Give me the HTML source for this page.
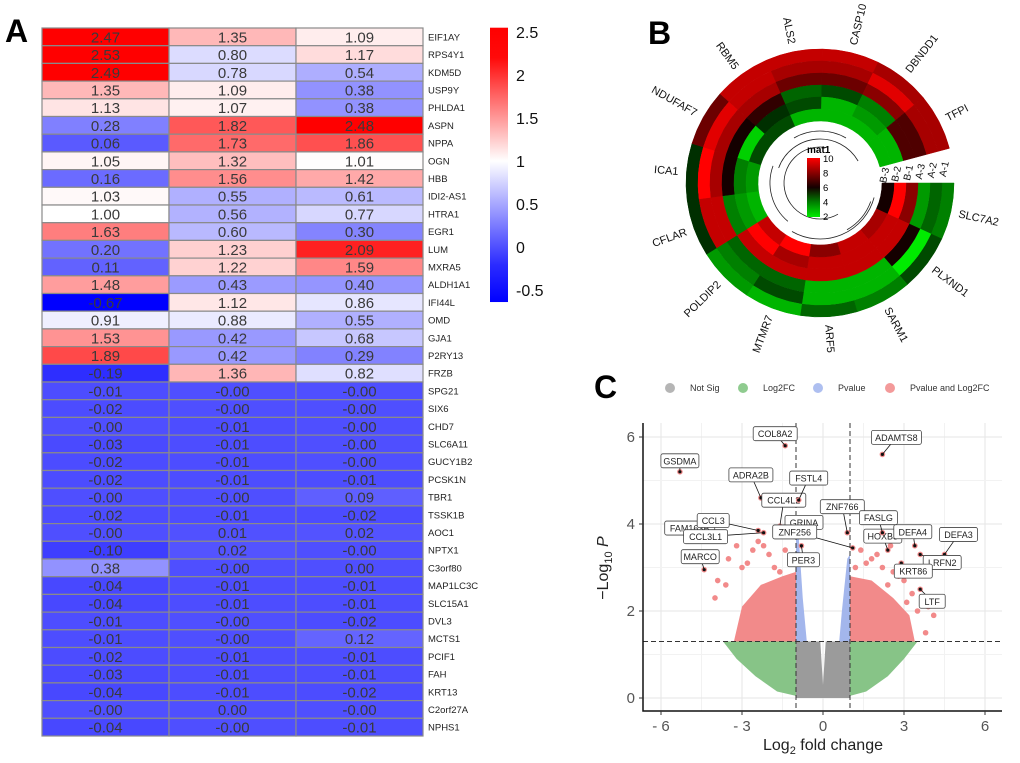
<!DOCTYPE html>
<html><head><meta charset="utf-8"><style>
html,body{margin:0;padding:0;background:#fff;}
svg{display:block;font-family:"Liberation Sans",Arial,sans-serif;}
</style></head><body>
<svg id="fig" width="1020" height="763" viewBox="0 0 1020 763">
<text x="5" y="42" font-size="32" font-weight="bold">A</text>
<text x="648" y="44" font-size="32" font-weight="bold">B</text>
<text x="594" y="398" font-size="32" font-weight="bold">C</text>
<g id="heat"></g>
<g id="cbar"></g>
<g id="circ"></g>
<g id="volc"></g>
</svg>
<script>
const NS="http://www.w3.org/2000/svg";
function mk(tag,attrs,parent,txt){const e=document.createElementNS(NS,tag);for(const k in attrs)e.setAttribute(k,attrs[k]);if(txt!==undefined)e.textContent=txt;parent.appendChild(e);return e;}

/* ---------- Panel A data ---------- */
const genes=["EIF1AY","RPS4Y1","KDM5D","USP9Y","PHLDA1","ASPN","NPPA","OGN","HBB","IDI2-AS1","HTRA1","EGR1","LUM","MXRA5","ALDH1A1","IFI44L","OMD","GJA1","P2RY13","FRZB","SPG21","SIX6","CHD7","SLC6A11","GUCY1B2","PCSK1N","TBR1","TSSK1B","AOC1","NPTX1","C3orf80","MAP1LC3C","SLC15A1","DVL3","MCTS1","PCIF1","FAH","KRT13","C2orf27A","NPHS1"];
const col1=["2.47","2.53","2.49","1.35","1.13","0.28","0.06","1.05","0.16","1.03","1.00","1.63","0.20","0.11","1.48","-0.67","0.91","1.53","1.89","-0.19","-0.01","-0.02","-0.00","-0.03","-0.02","-0.02","-0.00","-0.02","-0.00","-0.10","0.38","-0.04","-0.04","-0.01","-0.01","-0.02","-0.03","-0.04","-0.00","-0.04"];
const col2=["1.35","0.80","0.78","1.09","1.07","1.82","1.73","1.32","1.56","0.55","0.56","0.60","1.23","1.22","0.43","1.12","0.88","0.42","0.42","1.36","-0.00","-0.00","-0.01","-0.01","-0.01","-0.01","-0.00","-0.01","0.01","0.02","-0.00","-0.01","-0.01","-0.00","-0.00","-0.01","-0.01","-0.01","0.00","-0.00"];
const col3=["1.09","1.17","0.54","0.38","0.38","2.48","1.86","1.01","1.42","0.61","0.77","0.30","2.09","1.59","0.40","0.86","0.55","0.68","0.29","0.82","-0.00","-0.00","-0.00","-0.00","-0.00","-0.01","0.09","-0.02","0.02","-0.00","0.00","-0.01","-0.01","-0.02","0.12","-0.01","-0.01","-0.02","-0.00","-0.01"];
const cbarTicks=[2.5,2,1.5,1,0.5,0,-0.5];

function heatColor(v){
  if(v>=1){const t=Math.min(1,(v-1)/1.25);const g=Math.round(255*(1-t));return `rgb(255,${g},${g})`;}
  const t=Math.min(1,(1-v)/1.45);const g=Math.round(255*(1-t));return `rgb(${g},${g},255)`;
}
(function(){
  const g=document.getElementById('heat');
  const x0=42,cw=127,y0=28,rh=17.7;
  const cols=[col1,col2,col3];
  for(let r=0;r<genes.length;r++){
    for(let c=0;c<3;c++){
      const v=parseFloat(cols[c][r]);
      const rc=mk('rect',{x:x0+c*cw,y:y0+r*rh,width:cw,height:rh,fill:heatColor(v),stroke:'#8a8a8a','stroke-width':1.2},g);
      
      
      const t=mk('text',{x:x0+c*cw+cw/2,y:y0+r*rh+rh/2+5.5,'font-size':15,'text-anchor':'middle',fill:'#3a3a3a'},g,cols[c][r]);
      
      
    }
    const l=mk('text',{x:428,y:y0+r*rh+rh/2+3.5,'font-size':9.5,fill:'#222'},g,genes[r]);
    
    
  }
  const cb=document.getElementById('cbar');
  const defs=mk('defs',{},cb);
  const lg=mk('linearGradient',{id:'cbg',x1:0,y1:0,x2:0,y2:1},defs);
  const vy=v=>32+(2.5-v)*86;
  const top=vy(2.55),bot=vy(-0.64);
  [2.55,2.2,1.8,1.4,1,0.6,0.2,-0.2,-0.64].forEach(v=>mk('stop',{offset:(vy(v)-top)/(bot-top),'stop-color':heatColor(v)},lg));
  const bar=mk('rect',{x:490,y:top,width:18,height:bot-top,fill:'url(#cbg)'},cb);
  
  
  cbarTicks.forEach(v=>{const t=mk('text',{x:516,y:vy(v)+6,'font-size':16,fill:'#111'},cb,String(v));
    
    });
})();

/* ---------- Panel B data ---------- */
const circGenes=["SLC7A2","PLXND1","SARM1","ARF5","MTMR7","POLDIP2","CFLAR","ICA1","NDUFAF7","RBM5","ALS2","CASP10","DBNDD1","TFPI"];
const ringA1=[4,5,4,4.5,3,3.5,5.5,5.5,7.5,9,9,9,8.5,8.5];
const ringA2=[4.5,2,3,3,5,4,9,10,9.5,9,8.5,8.5,9.5,8.5];
const ringA3=[3.5,6,3,3,4.5,4.5,9,8.5,8.5,8.5,7.5,7.5,8,7];
const ringB1=[8,9,9,9,9,9,4,6,6,6.5,4.5,5,4,7];
const ringB2=[10,9,9,9,8.5,10,3.5,4,2.5,5.5,5,3,3.5,3];
const ringB3=[6,8.5,9,8,10,9,3,3.5,5,5,3,3,3,3];
const ringNames=["A-1","A-2","A-3","B-1","B-2","B-3"];
const matTicks=[10,8,6,4,2];
function matColor(v){
  const t=(v-2)/8;
  if(t<0.5){const s=t/0.5;return `rgb(0,${Math.round(235*(1-s)+20*s)},0)`;}
  const s=(t-0.5)/0.5;return `rgb(${Math.round(20+235*s)},0,0)`;
}
(function(){
  const g=document.getElementById('circ');
  const cx=820,cy=183,rOut=134,rw=12,start=0,span=345;
  const rings=[ringA1,ringA2,ringA3,ringB1,ringB2,ringB3];
  const n=circGenes.length,da=span/n;
  const P=(r,a)=>[cx+r*Math.cos(a*Math.PI/180),cy+r*Math.sin(a*Math.PI/180)];
  rings.forEach((ring,ri)=>{
    const r1=rOut-ri*rw,r0=r1-rw;
    ring.forEach((v,i)=>{
      const a0=start+i*da,a1=a0+da;
      const p1=P(r1,a0),p2=P(r1,a1),p3=P(r0,a1),p4=P(r0,a0);
      const d=`M${p1}A${r1},${r1} 0 0 1 ${p2}L${p3}A${r0},${r0} 0 0 0 ${p4}Z`;
      const s=mk('path',{d:d,fill:matColor(v),stroke:matColor(v),'stroke-width':0.5},g);
      
      
    });
    const rm=r1-rw/2;const p=P(rm,-6);
    const t=mk('text',{x:p[0],y:p[1],'font-size':10,'text-anchor':'middle',transform:`rotate(-78 ${p[0]} ${p[1]})`,fill:'#111'},g,ringNames[ri]);
    
    
  });
  circGenes.forEach((name,i)=>{
    const a=start+(i+0.5)*da;const p=P(rOut+8,a);
    let rot=a,anchor='start';
    if(a>90&&a<270){rot=a-180;anchor='end';}
    const t=mk('text',{x:p[0],y:p[1]+4,'font-size':11,'text-anchor':anchor,transform:`rotate(${rot} ${p[0]} ${p[1]})`,fill:'#111'},g,name);
    
    
  });
  [[56,15,120],[50,130,200],[44,200,330],[36,60,280],[52,240,300],[54,20,60]].forEach(([r,a0,a1])=>{
    const p1=P(r,a0),p2=P(r,a1);
    const dd=mk('path',{d:`M${p1}A${r},${r} 0 ${a1-a0>180?1:0} 1 ${p2}`,fill:'none',stroke:'#222','stroke-width':0.8},g);
    
    
  });
  const defs=mk('defs',{},g);
  const lg=mk('linearGradient',{id:'matg',x1:0,y1:0,x2:0,y2:1},defs);
  [10,8,6,4,2].forEach((v,i)=>mk('stop',{offset:i/4,'stop-color':matColor(v)},lg));
  const lt=mk('text',{x:807,y:153,'font-size':10,'font-weight':'bold'},g,'mat1');
  
  
  const lb=mk('rect',{x:807,y:158,width:13,height:59,fill:'url(#matg)'},g);
  
  
  matTicks.forEach((v,i)=>{const t=mk('text',{x:823,y:162+i*14.5,'font-size':9.5},g,String(v));
    
    });
})();

/* ---------- Panel C data ---------- */
const xTicks=[-6,-3,0,3,6];
const yTicks=[0,2,4,6];
const labNames=["GSDMA","FAM163B","MARCO","ADRA2B","CCL3","CCL3L1","CCL4L2","FSTL4","COL8A2","GRINA","PER3","ZNF256","ZNF766","HOXB3","FASLG","ADAMTS8","DEFA4","DEFA3","LRFN2","KRT86","LTF"];
const labFC=[-5.3,-4.9,-4.4,-2.3,-2.4,-2.2,-1.6,-0.9,-1.4,-1.0,-0.8,1.1,0.9,2.4,2.2,2.2,3.4,4.5,3.6,2.9,3.6];
const labP=[5.2,3.7,2.95,4.6,3.85,3.8,3.95,4.55,5.8,3.9,3.5,3.45,3.8,3.4,3.8,5.6,3.5,3.3,3.3,3.1,2.5];
const labDX=[0,-1,-4,-10,-45,-58,4,10,-10,8,2,-58,-5,-5,-4,14,-2,14,22,12,12];
const labDY=[-11,-9,-13,-23,-10,4,-26,-22,-12,-6,14,-16,-26,-14,-15,-17,-14,-20,8,8,12];
const redFC=[-2.4,-3.2,-3.5,-3.0,-2.8,-2.0,-1.8,-1.4,-1.2,-3.6,-4.0,-2.6,-3.9,-1.6,-2.2,1.4,1.8,2.2,2.6,3.0,3.3,2.0,2.8,1.2,3.9,4.1,3.5,2.4,1.6,3.1,3.8,2.5];
const redP=[3.6,3.5,3.2,3.0,3.1,3.3,3.0,3.4,3.2,2.6,2.3,3.4,2.7,2.9,3.5,3.4,3.2,3.0,2.9,2.7,2.4,3.3,2.8,3.0,2.1,1.9,2.0,2.6,3.1,2.2,1.5,3.5];
(function(){
  const g=document.getElementById('volc');
  const X=v=>823+27*v, Y=v=>698-43.5*v;
  const L=643,R=1002,T=423,B=711;
  for(let v=-7.5;v<=7.5;v+=1.5){if(X(v)>L&&X(v)<R){const gl=mk('line',{x1:X(v),x2:X(v),y1:T,y2:B,stroke:Number.isInteger(v/3)?'#e6e6e6':'#f2f2f2','stroke-width':1},g);}}
  for(let v=0;v<=7;v+=1){if(Y(v)>T){const gl=mk('line',{x1:L,x2:R,y1:Y(v),y2:Y(v),stroke:v%2==0?'#e6e6e6':'#f2f2f2','stroke-width':1},g);}}
  const poly=(pts,fill,name)=>{const p=mk('path',{d:'M'+pts.map(q=>X(q[0])+','+Y(q[1])).join('L')+'Z',fill:fill},g);};
  poly([[-1,0],[1,0],[1,1.3],[0.1,1.3],[0,0.3],[-0.1,1.3],[-1,1.3]],'#9b9b9b','not-sig-cloud');
  poly([[-1,0.05],[-1,1.3],[-3.7,1.3],[-3.2,0.9],[-2.5,0.5],[-1.7,0.15]],'#87c487','log2fc-cloud-left');
  poly([[1,0.05],[1,1.3],[3.5,1.3],[3,0.9],[2.4,0.5],[1.6,0.15]],'#87c487','log2fc-cloud-right');
  poly([[-1,1.3],[-0.6,1.3],[-0.75,2.3],[-0.9,3.7],[-1,3.7]],'#a3b6ec','pvalue-cloud-left');
  poly([[1,1.3],[0.6,1.3],[0.7,2.0],[0.9,3.2],[1,3.3]],'#a3b6ec','pvalue-cloud-right');
  poly([[-1,1.3],[-3.3,1.3],[-3,2.1],[-2.3,2.6],[-1.5,2.8],[-1,2.9]],'#f28a8a','sig-cloud-left');
  poly([[1,1.3],[3.4,1.3],[3.2,1.9],[2.6,2.3],[1.8,2.7],[1,2.8]],'#f28a8a','sig-cloud-right');
  redFC.forEach((v,i)=>{const c=mk('circle',{cx:X(v),cy:Y(redP[i]),r:2.8,fill:'#f28a8a'},g);});
  [-1,1].forEach(v=>{const l=mk('line',{x1:X(v),x2:X(v),y1:T,y2:B,stroke:'#333','stroke-dasharray':'5,3','stroke-width':1},g);});
  const hl=mk('line',{x1:L,x2:R,y1:Y(1.3),y2:Y(1.3),stroke:'#333','stroke-dasharray':'5,3','stroke-width':1},g);
  
  labNames.forEach((n,i)=>{
    const px=X(labFC[i]),py=Y(labP[i]);
    const c=mk('circle',{cx:px,cy:py,r:2.8,fill:'#f28a8a'},g);
    
    const bx=px+labDX[i],by=py+labDY[i];
    const w=n.length*6+8;
    mk('line',{x1:px,y1:py,x2:bx,y2:by,stroke:'#111','stroke-width':0.8},g);
    mk('circle',{cx:px,cy:py,r:1.6,fill:'#111'},g);
    const r=mk('rect',{x:bx-w/2,y:by-7,width:w,height:14,rx:2,fill:'#fff',stroke:'#444','stroke-width':0.8},g);
    
    const t=mk('text',{x:bx,y:by+3.5,'font-size':9,'text-anchor':'middle',fill:'#222'},g,n);
    
  });
  const ax=mk('path',{d:`M${L},${T}L${L},${B}L${R},${B}`,fill:'none',stroke:'#111','stroke-width':1.5},g);
  
  xTicks.forEach(v=>{mk('line',{x1:X(v),x2:X(v),y1:B,y2:B+4,stroke:'#333'},g);
    const t=mk('text',{x:X(v),y:B+20,'font-size':15,'text-anchor':'middle',fill:'#555'},g,v<0?'- '+(-v):String(v));
    });
  yTicks.forEach(v=>{mk('line',{x1:L-4,x2:L,y1:Y(v),y2:Y(v),stroke:'#333'},g);
    const t=mk('text',{x:L-8,y:Y(v)+5,'font-size':15,'text-anchor':'end',fill:'#555'},g,String(v));
    });
  const xt=mk('text',{x:823,y:750,'font-size':16,'text-anchor':'middle',fill:'#222'},g);
  xt.innerHTML='Log<tspan font-size="11" dy="4">2</tspan><tspan dy="-4"> fold change</tspan>';
  
  const yt=mk('text',{x:0,y:0,'font-size':16,'text-anchor':'middle',fill:'#222',transform:'translate(608,568) rotate(-90)'},g);
  yt.innerHTML='\u2212Log<tspan font-size="11" dy="4">10</tspan><tspan dy="-4" font-style="italic"> P</tspan>';
  
  const leg=[["Not Sig","#b5b5b5",670],["Log2FC","#8fcb8f",743],["Pvalue","#aebff0",818],["Pvalue and Log2FC","#f39a9a",890]];
  leg.forEach(([n,c,x])=>{mk('circle',{cx:x,cy:388,r:5,fill:c},g);
    const t=mk('text',{x:x+20,y:391,'font-size':9,fill:'#333'},g,n);
    });
})();
</script>
</body></html>
